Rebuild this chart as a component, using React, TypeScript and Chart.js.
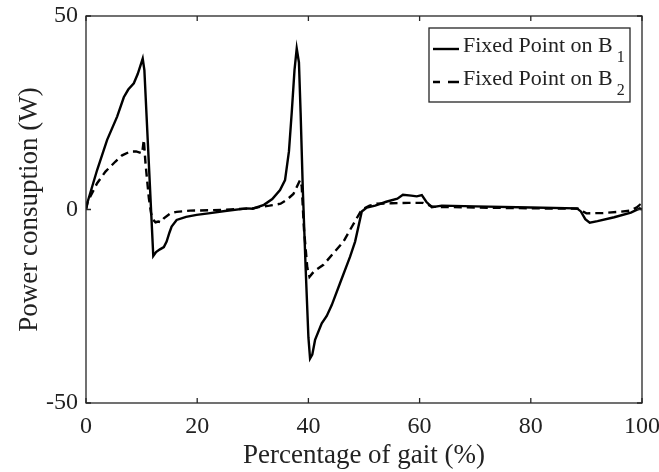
import React, { useEffect, useRef } from "react";
import { Chart, registerables } from "chart.js";

Chart.register(...registerables);

// Percentage of gait (%) and power (W) — Fixed Point on B1 (solid)
const xB1 = [0, 0.3, 2, 3.8, 5.6, 6.8, 7.6, 8.6, 9.3, 10.2, 10.5, 11.2, 11.8, 12.1, 12.6, 13.3, 14, 14.5, 15, 15.4, 16.3, 18, 19.9, 22, 25, 28.9, 30, 32, 33.5, 34.9, 35.8, 36.5, 37, 37.5, 37.9, 38.3, 38.6, 39, 39.5, 40, 40.3, 40.7, 41.2, 42.4, 43.3, 44.2, 45.7, 47.5, 48.4, 49.6, 50.5, 52, 54, 56, 57, 58.5, 59.5, 60.4, 61.2, 62.2, 64, 70, 80, 88.3, 89, 89.8, 90.6, 92, 95, 98, 99.6, 100];
const yB1 = [0, 2, 10.2, 18, 24, 29, 31, 32.6, 35, 39, 36, 15, -3, -12, -11, -10.3, -9.7, -8.3, -6, -4.4, -2.7, -1.9, -1.4, -1, -0.4, 0.3, 0.2, 1.2, 2.7, 5, 7.6, 15, 25, 36, 41.6, 38, 25, 5, -15, -33, -38.5, -37.5, -33.7, -29.4, -27.5, -24.7, -19, -12.2, -8.3, -0.5, 0.5, 1, 2, 2.8, 3.8, 3.6, 3.4, 3.7, 2, 0.6, 1, 0.8, 0.5, 0.3, -0.5, -2.5, -3.4, -3, -2, -0.8, 0.3, 0];

// Fixed Point on B2 (dashed)
const xB2 = [0, 0.3, 2, 3.5, 5.3, 6.5, 8, 9, 10.1, 10.4, 10.7, 11.3, 11.7, 12, 12.5, 13, 13.5, 14, 15.2, 16.3, 18.7, 22, 26, 30, 31.3, 33, 35, 36.1, 37.3, 38.5, 38.8, 39.2, 39.8, 40.2, 41, 42.7, 44.5, 46.3, 48, 49.6, 51, 52.3, 55, 58, 60.6, 61.5, 62.4, 70, 80, 88.8, 89.4, 90, 93, 96, 97.8, 99, 99.6, 100];
const yB2 = [0, 2, 6.8, 9.8, 12.4, 14, 15, 15, 14.5, 18, 12, 3, -1, -2.5, -3.3, -3.1, -3.3, -2.3, -1, -0.6, -0.3, -0.2, 0, 0.3, 0.7, 1, 1.5, 2.5, 4, 7.6, 6, -5, -15, -17.4, -16, -14.3, -11.3, -8.3, -4, 0, 1, 1.5, 1.6, 1.7, 1.7, 1.2, 0.7, 0.5, 0.3, 0.2, -0.5, -1, -0.9, -0.6, -0.3, 0.5, 1.2, 0.5];

const xTicks = [0, 20, 40, 60, 80, 100];
const yTicks = [-50, 0, 50];
const seriesNames = ["Fixed Point on B", "Fixed Point on B"];
const seriesSubs = ["1", "2"];
const xTitle = "Percentage of gait (%)";
const yTitle = "Power consuption (W)";

const FONT = "'Liberation Serif', 'Times New Roman', serif";
const TEXT = "#222";

const framePlugin = {
  id: "frame",
  afterDatasetsDraw(chart: any) {
    const { ctx, chartArea: a, scales } = chart;
    ctx.save();
    ctx.strokeStyle = "#262626";
    ctx.lineWidth = 1.3;
    ctx.setLineDash([]);
    ctx.strokeRect(a.left, a.top, a.right - a.left, a.bottom - a.top);
    const len = 5;
    ctx.beginPath();
    for (const v of xTicks) {
      const px = scales.x.getPixelForValue(v);
      ctx.moveTo(px, a.bottom);
      ctx.lineTo(px, a.bottom - len);
      ctx.moveTo(px, a.top);
      ctx.lineTo(px, a.top + len);
    }
    for (const v of yTicks) {
      const py = scales.y.getPixelForValue(v);
      ctx.moveTo(a.left, py);
      ctx.lineTo(a.left + len, py);
      ctx.moveTo(a.right, py);
      ctx.lineTo(a.right - len, py);
    }
    ctx.stroke();
    ctx.restore();
  },
};

const legendPlugin = {
  id: "customLegend",
  afterDraw(chart: any) {
    const { ctx } = chart;
    const box = { l: 429, t: 28, r: 630, b: 102 };
    ctx.save();
    ctx.fillStyle = "#fff";
    ctx.fillRect(box.l, box.t, box.r - box.l, box.b - box.t);
    ctx.strokeStyle = "#262626";
    ctx.lineWidth = 1.3;
    ctx.setLineDash([]);
    ctx.strokeRect(box.l, box.t, box.r - box.l, box.b - box.t);
    const rows = [49, 82];
    const baselines = [52, 85];
    chart.data.datasets.forEach((ds: any, i: number) => {
      ctx.strokeStyle = "#000";
      ctx.lineWidth = 2.4;
      ctx.beginPath();
      if (i === 0) {
        ctx.moveTo(433, rows[i]);
        ctx.lineTo(459, rows[i]);
      } else {
        ctx.moveTo(433, rows[i]);
        ctx.lineTo(440, rows[i]);
        ctx.moveTo(448, rows[i]);
        ctx.lineTo(459, rows[i]);
      }
      ctx.stroke();
      ctx.fillStyle = TEXT;
      ctx.textAlign = "left";
      ctx.textBaseline = "alphabetic";
      ctx.font = `22px ${FONT}`;
      ctx.fillText(seriesNames[i], 463, baselines[i]);
      const w = ctx.measureText(seriesNames[i]).width;
      ctx.font = `16px ${FONT}`;
      ctx.fillText(seriesSubs[i], 463 + w + 4, baselines[i] + 10);
    });
    ctx.restore();
  },
};

export default function App() {
  const ref = useRef<HTMLCanvasElement | null>(null);
  useEffect(() => {
    document.body.style.margin = "0";
    const canvas = ref.current!;
    const chart = new Chart(canvas, {
      type: "line",
      data: {
        datasets: [
          {
            label: seriesNames[0] + seriesSubs[0],
            data: xB1.map((x, i) => ({ x, y: yB1[i] })),
            borderColor: "#000",
            borderWidth: 2.4,
            pointRadius: 0,
            tension: 0,
            fill: false,
          },
          {
            label: seriesNames[1] + seriesSubs[1],
            data: xB2.map((x, i) => ({ x, y: yB2[i] })),
            borderColor: "#000",
            borderWidth: 2.4,
            borderDash: [8, 5],
            pointRadius: 0,
            tension: 0,
            fill: false,
          },
        ],
      },
      options: {
        animation: false,
        responsive: false,
        maintainAspectRatio: false,
        layout: { padding: { top: 16, right: 17, left: 0, bottom: 0 } },
        plugins: { legend: { display: false }, tooltip: { enabled: false } },
        scales: {
          x: {
            type: "linear",
            min: 0,
            max: 100,
            afterBuildTicks: (s: any) => {
              s.ticks = xTicks.map((v) => ({ value: v }));
            },
            afterFit: (s: any) => {
              s.height = 69;
              s.paddingLeft = 0;
              s.paddingRight = 0;
            },
            grid: { display: false, drawTicks: false },
            border: { display: false },
            ticks: {
              color: TEXT,
              font: { family: FONT, size: 24 },
              padding: 9,
              maxRotation: 0,
            },
            title: {
              display: true,
              text: xTitle,
              color: TEXT,
              font: { family: FONT, size: 27 },
              padding: { top: 0, bottom: 0 },
            },
          },
          y: {
            type: "linear",
            min: -50,
            max: 50,
            afterBuildTicks: (s: any) => {
              s.ticks = yTicks.map((v) => ({ value: v }));
            },
            afterFit: (s: any) => {
              s.width = 86;
              s.paddingTop = 0;
              s.paddingBottom = 0;
            },
            grid: { display: false, drawTicks: false },
            border: { display: false },
            ticks: {
              color: TEXT,
              font: { family: FONT, size: 24 },
              padding: 8,
            },
            title: {
              display: true,
              text: yTitle,
              color: TEXT,
              font: { family: FONT, size: 27 },
              padding: { top: 14, bottom: 0 },
            },
          },
        },
      },
      plugins: [framePlugin, legendPlugin],
    } as any);
    return () => chart.destroy();
  }, []);
  return <canvas ref={ref} width={659} height={472} style={{ display: "block" }} />;
}
